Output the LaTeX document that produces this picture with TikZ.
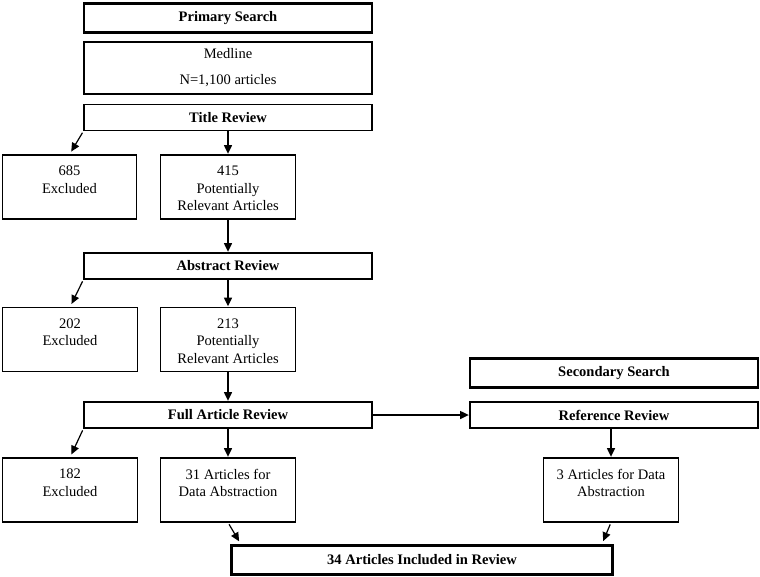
\documentclass[tikz,border=0pt]{standalone}
\usepackage{fontspec}
\setmainfont{Liberation Serif}
\usetikzlibrary{arrows.meta}
\begin{document}
\begin{tikzpicture}
[x=0.75pt,y=-0.75pt,
  boxdecorate/.style={shape=rectangle,draw,line width=0.8pt,inner sep=0pt,minimum width=216pt,minimum height=19.5pt,font=\fontsize{10.9}{13}\selectfont\bfseries},%
  headdecorate/.style={boxdecorate,line width=1.8pt,minimum height=22pt},%
  talldecorate/.style={shape=rectangle,draw,line width=0.8pt,inner sep=0pt,minimum width=101pt,minimum height=48pt},%
  textdecorate/.style={anchor=north,inner sep=0pt,yshift=-8.5pt,align=center,font=\fontsize{10.9}{13.1}\selectfont},%
  linedecorate/.style={-{Triangle[length=6.5pt,width=6pt]},line width=0.9pt,shorten >=0.5pt},%
  slantdecorate/.style={linedecorate,shorten >=2.5pt,shorten <=1.5pt}]
\useasboundingbox (0,0) rectangle (760,576);
%% heads
\node (prim) at (228,18) [headdecorate] {Primary Search};
\node (sec) at (614,373) [headdecorate] {Secondary Search};
\node (final) at (422,560) [headdecorate,minimum width=286pt] {34 Articles Included in Review};
\node (med) at (228,68) [boxdecorate,minimum height=39pt,align=center,font=\fontsize{10.9}{13}\selectfont] {Medline\\[6.5pt]N=1,100 articles};
%% review steps
\foreach \nodename/\x/\y/\txt in {title/228/117.5/Title Review, abs/228/266/Abstract Review, full/228/415/Full Article Review, ref/614/415/Reference Review} {
  \node (\nodename) at (\x,\y) [boxdecorate] {\txt};
}
%% counts
\foreach \nodename/\x/\y/\txt in {ex1/69.5/187/{685\\Excluded}, pot1/228/187/{415\\Potentially\\Relevant Articles}, ex2/70/339.5/{202\\Excluded}, pot2/228/339.5/{213\\Potentially\\Relevant Articles}, ex3/70/490/{182\\Excluded}, pot3/228/490/{31 Articles for\\Data Abstraction}, three/611/490/{3 Articles for Data\\Abstraction}} {
  \node (\nodename) at (\x,\y) [talldecorate,label={[textdecorate]north:\txt}] {};
}
%% arrows
\path
\foreach \startnode/\endnode in {title/pot1, pot1/abs, abs/pot2, pot2/full, full/pot3} {
  (\startnode) edge[linedecorate] (\endnode)
};
\path
\foreach \startnode/\endnode in {title/ex1, abs/ex2, full/ex3} {
  (\startnode.south west) edge[slantdecorate] (\endnode.north)
};
\draw[linedecorate] (full) -- (ref);
\draw[linedecorate] (three.north |- ref.south) -- (three);
\draw[slantdecorate] (pot3.south) -- ([xshift=8pt]final.north west);
\draw[slantdecorate] (three.south) -- ([xshift=-9pt]final.north east);
\end{tikzpicture}
\end{document}
